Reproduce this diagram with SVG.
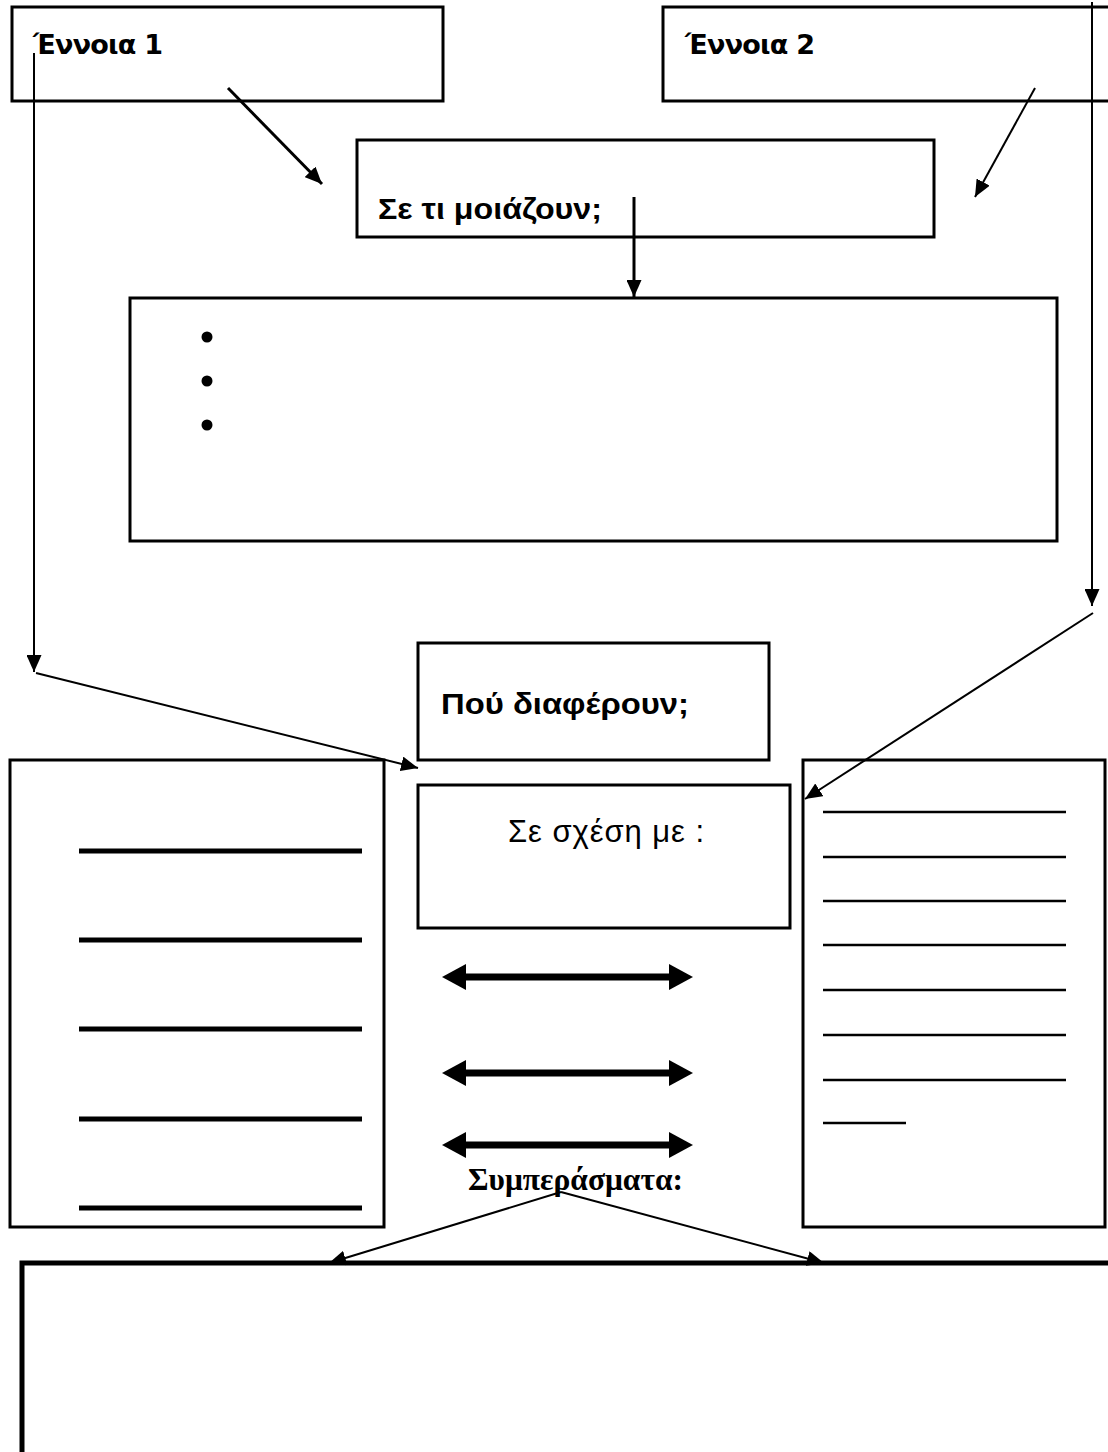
<svg xmlns="http://www.w3.org/2000/svg" width="1108" height="1452" viewBox="0 0 1108 1452">
<style>
.box{fill:#fff;stroke:#000;stroke-width:3}
.thick{fill:#fff;stroke:#000;stroke-width:5}
.comic{font-family:"DejaVu Sans",sans-serif;font-weight:bold;font-size:27px;fill:#000}
.sansb{font-family:"Liberation Sans",Arial,sans-serif;font-weight:bold;font-size:29px;fill:#000}
.sans{font-family:"Liberation Sans",Arial,sans-serif;font-size:31px;fill:#000}
.serifb{font-family:"Liberation Serif","Times New Roman",serif;font-weight:bold;font-size:32px;fill:#000}
.conn{fill:none;stroke:#000;stroke-width:2}
.conn3{fill:none;stroke:#000;stroke-width:3}
.dbl{fill:none;stroke:#000;stroke-width:7}
.rule{stroke:#000;stroke-width:5}
.rule2{stroke:#000;stroke-width:2.5}
</style>
<defs>
<marker id="ah" markerUnits="userSpaceOnUse" markerWidth="17" markerHeight="15" refX="17" refY="7.5" orient="auto">
<path d="M0,0 L17,7.5 L0,15 z" fill="#000"/>
</marker>
<marker id="dh" markerUnits="userSpaceOnUse" markerWidth="24" markerHeight="26" refX="6" refY="13" orient="auto-start-reverse">
<path d="M0,0 L24,13 L0,26 z" fill="#000"/>
</marker>
</defs>
<rect width="1108" height="1452" fill="#fff"/>

<g id="concept1">
<rect class="box" x="12" y="7" width="431" height="94"/>
<text class="comic" x="33" y="54" textLength="130">Έννοια 1</text>
</g>
<g id="concept2">
<rect class="box" x="663" y="7" width="460" height="94"/>
<text class="comic" x="685" y="54" textLength="130">Έννοια 2</text>
</g>
<g id="similar">
<rect class="box" x="357" y="140" width="577" height="97"/>
<text class="sansb" x="378" y="219" textLength="224" lengthAdjust="spacingAndGlyphs">Σε τι μοιάζουν;</text>
</g>
<g id="similarities">
<rect class="box" x="130" y="298" width="927" height="243"/>
<circle cx="207" cy="337" r="5.5"/>
<circle cx="207" cy="381" r="5.5"/>
<circle cx="207" cy="425" r="5.5"/>
</g>
<g id="differ">
<rect class="box" x="418" y="643" width="351" height="117"/>
<text class="sansb" x="441" y="714" textLength="248" lengthAdjust="spacingAndGlyphs">Πού διαφέρουν;</text>
</g>
<g id="relation">
<rect class="box" x="418" y="785" width="372" height="143"/>
<text class="sans" x="508" y="842" textLength="196" lengthAdjust="spacing">Σε σχέση με :</text>
</g>
<g id="left-list">
<rect class="box" x="10" y="760" width="374" height="467"/>
<line class="rule" x1="79" y1="851" x2="362" y2="851"/>
<line class="rule" x1="79" y1="940" x2="362" y2="940"/>
<line class="rule" x1="79" y1="1029" x2="362" y2="1029"/>
<line class="rule" x1="79" y1="1119" x2="362" y2="1119"/>
<line class="rule" x1="79" y1="1208" x2="362" y2="1208"/>
</g>
<g id="right-list">
<rect class="box" x="803" y="760" width="302" height="467"/>
<line class="rule2" x1="823" y1="812" x2="1066" y2="812"/>
<line class="rule2" x1="823" y1="857" x2="1066" y2="857"/>
<line class="rule2" x1="823" y1="901" x2="1066" y2="901"/>
<line class="rule2" x1="823" y1="945" x2="1066" y2="945"/>
<line class="rule2" x1="823" y1="990" x2="1066" y2="990"/>
<line class="rule2" x1="823" y1="1035" x2="1066" y2="1035"/>
<line class="rule2" x1="823" y1="1080" x2="1066" y2="1080"/>
<line class="rule2" x1="823" y1="1123" x2="906" y2="1123"/>
</g>
<g id="conclusions-label">
<text class="serifb" x="468" y="1190" textLength="215" lengthAdjust="spacingAndGlyphs">Συμπεράσματα:</text>
</g>
<g id="conclusions">
<rect class="thick" x="22" y="1263" width="1110" height="220"/>
</g>

<g id="connectors">
<line class="conn3" x1="228" y1="88" x2="322" y2="184" marker-end="url(#ah)"/>
<line class="conn" x1="1035" y1="88" x2="975" y2="197" marker-end="url(#ah)"/>
<line class="conn3" x1="634" y1="197" x2="634" y2="297" marker-end="url(#ah)"/>
<line class="conn" x1="34" y1="53" x2="34" y2="672" marker-end="url(#ah)"/>
<line class="conn" x1="36" y1="673" x2="418" y2="768" marker-end="url(#ah)"/>
<line class="conn" x1="1092" y1="2" x2="1092" y2="606" marker-end="url(#ah)"/>
<line class="conn" x1="1093" y1="613" x2="805" y2="799" marker-end="url(#ah)"/>
<line class="dbl" x1="460" y1="977" x2="675" y2="977" marker-start="url(#dh)" marker-end="url(#dh)"/>
<line class="dbl" x1="460" y1="1073" x2="675" y2="1073" marker-start="url(#dh)" marker-end="url(#dh)"/>
<line class="dbl" x1="460" y1="1145" x2="675" y2="1145" marker-start="url(#dh)" marker-end="url(#dh)"/>
<line class="conn" x1="561" y1="1192" x2="329" y2="1263" marker-end="url(#ah)"/>
<line class="conn" x1="561" y1="1192" x2="824" y2="1263" marker-end="url(#ah)"/>
</g>
</svg>
